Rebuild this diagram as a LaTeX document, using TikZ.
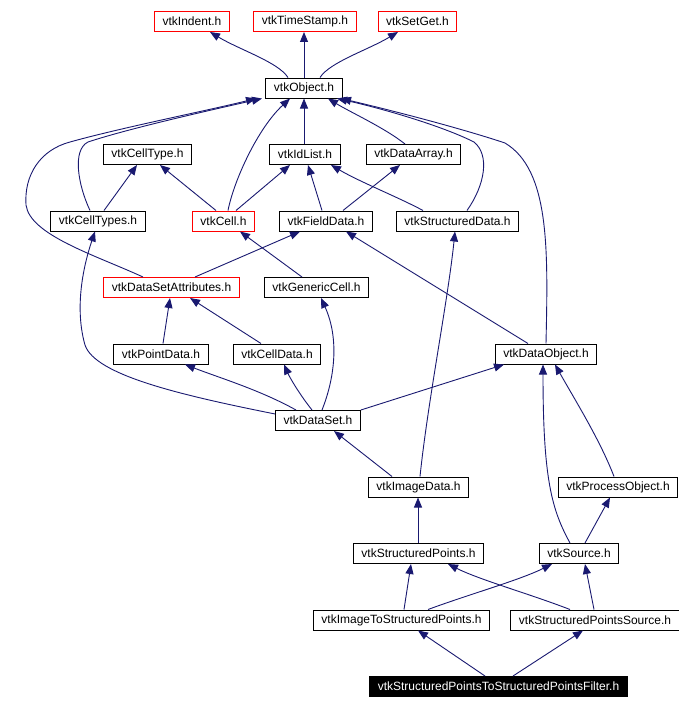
\documentclass[tikz,border=0pt]{standalone}
\usepackage{fontspec}
\setmainfont{Liberation Sans}
\usetikzlibrary{arrows.meta}
\definecolor{edgeblue}{RGB}{25,25,112}
\begin{document}
\begin{tikzpicture}[x=1pt,y=-1pt,
  hdr/.style={draw=black,line width=1pt,fill=white,inner xsep=8pt,inner ysep=0pt,
    minimum height=20pt,font=\fontsize{12}{14}\selectfont},
  miss/.style={hdr,draw=red},
  root/.style={hdr,fill=black,text=white},
  dep/.style={draw=edgeblue,line width=0.9pt,-{Triangle[length=10pt,width=8pt]}}]
  \useasboundingbox (0,0) rectangle (678,709);
  \node[miss] (indent) at (192,21.5) {vtkIndent.h};
  \node[miss] (timestamp) at (305,21.5) {vtkTimeStamp.h};
  \node[miss] (setget) at (417.5,21.5) {vtkSetGet.h};
  \node[hdr] (object) at (304,88) {vtkObject.h};
  \node[hdr] (celltype) at (147.5,154.5) {vtkCellType.h};
  \node[hdr] (idlist) at (305,154.5) {vtkIdList.h};
  \node[hdr] (dataarray) at (413.5,154.5) {vtkDataArray.h};
  \node[hdr] (celltypes) at (98,221) {vtkCellTypes.h};
  \node[miss] (cell) at (223.5,221) {vtkCell.h};
  \node[hdr] (fielddata) at (326,221) {vtkFieldData.h};
  \node[hdr] (structdata) at (457.5,221) {vtkStructuredData.h};
  \node[miss] (dsattr) at (171.5,287.5) {vtkDataSetAttributes.h};
  \node[hdr] (genericcell) at (316.5,287.5) {vtkGenericCell.h};
  \node[hdr] (pointdata) at (161,354) {vtkPointData.h};
  \node[hdr] (celldata) at (277,354) {vtkCellData.h};
  \node[hdr] (dataobject) at (546,354) {vtkDataObject.h};
  \node[hdr] (dataset) at (318,420.5) {vtkDataSet.h};
  \node[hdr] (imagedata) at (418.5,487) {vtkImageData.h};
  \node[hdr] (procobject) at (618,487) {vtkProcessObject.h};
  \node[hdr] (structpoints) at (418.5,553.5) {vtkStructuredPoints.h};
  \node[hdr] (source) at (579,553.5) {vtkSource.h};
  \node[hdr] (imgtosp) at (401.5,620) {vtkImageToStructuredPoints.h};
  \node[hdr] (spsource) at (595,620) {vtkStructuredPointsSource.h};
  \node[root] (filter) at (498.5,686.5) {vtkStructuredPointsToStructuredPointsFilter.h};

  \draw[dep] (object.north -| 288,0) .. controls (278,62) and (240,50) .. (indent.south -| 210,0);
  \draw[dep] (object.north -| 304,0) -- (timestamp.south -| 304,0);
  \draw[dep] (object.north -| 320,0) .. controls (330,62) and (368,50) .. (setget.south -| 398,0);
  \draw[dep] (idlist.north -| 304,0) -- (object.south -| 304,0);
  \draw[dep] (dataarray.north -| 405,0) .. controls (385,128) and (350,112) .. (object.south -| 328,0);
  \draw[dep] (cell.north -| 228,0) .. controls (234,180) and (258,128) .. (object.south -| 290,0);
  \draw[dep] (celltypes.north -| 90,0) .. controls (78,185) and (72,150) .. (88,142)
    .. controls (130,128) and (220,108) .. (object.south -| 262,0);
  \draw[dep] (dsattr.north -| 143,0) .. controls (95,255) and (30,235) .. (26,205)
    .. controls (24,175) and (40,150) .. (70,142) .. controls (120,128) and (210,110) .. (object.south -| 256,0);
  \draw[dep] (structdata.north -| 467,0) .. controls (485,185) and (490,155) .. (474,142)
    .. controls (440,125) and (380,108) .. (object.south -| 337,0);
  \draw[dep] (dataobject.north -| 546,0) .. controls (548,250) and (550,170) .. (505,143)
    .. controls (460,128) and (390,110) .. (object.south -| 341,0);
  \draw[dep] (celltypes.north -| 104,0) -- (celltype.south -| 137,0);
  \draw[dep] (cell.north -| 216,0) -- (celltype.south -| 160,0);
  \draw[dep] (cell.north -| 236,0) -- (idlist.south -| 290,0);
  \draw[dep] (fielddata.north -| 322,0) -- (idlist.south -| 308,0);
  \draw[dep] (fielddata.north -| 343,0) -- (dataarray.south -| 400,0);
  \draw[dep] (structdata.north -| 423,0) .. controls (400,198) and (360,182) .. (idlist.south -| 331,0);
  \draw[dep] (dsattr.north -| 195,0) -- (fielddata.south -| 300,0);
  \draw[dep] (genericcell.north -| 302,0) -- (cell.south -| 240,0);
  \draw[dep] (dataobject.north -| 528,0) -- (fielddata.south -| 346,0);
  \draw[dep] (imagedata.north -| 420,0) .. controls (428,400) and (448,300) .. (structdata.south -| 455,0);
  \draw[dep] (pointdata.north -| 163,0) -- (dsattr.south -| 170,0);
  \draw[dep] (celldata.north -| 261,0) -- (dsattr.south -| 190,0);
  \draw[dep] (dataset.west |- 0,414) .. controls (180,395) and (95,375) .. (85,345)
    .. controls (75,310) and (82,270) .. (celltypes.south -| 95,0);
  \draw[dep] (dataset.north -| 296,0) .. controls (260,390) and (220,378) .. (pointdata.south -| 185,0);
  \draw[dep] (dataset.north -| 312,0) .. controls (300,395) and (290,378) .. (celldata.south -| 284,0);
  \draw[dep] (dataset.north -| 322,0) .. controls (334,380) and (340,340) .. (genericcell.south -| 321,0);
  \draw[dep] (dataset.north east) -- (dataobject.south -| 504,0);
  \draw[dep] (imagedata.north -| 392,0) -- (dataset.south -| 334,0);
  \draw[dep] (source.north -| 570,0) .. controls (552,510) and (543,480) .. (dataobject.south -| 543,0);
  \draw[dep] (procobject.north -| 614,0) .. controls (600,440) and (575,400) .. (dataobject.south -| 555,0);
  \draw[dep] (structpoints.north -| 418,0) -- (imagedata.south -| 418,0);
  \draw[dep] (source.north -| 585,0) -- (procobject.south -| 610,0);
  \draw[dep] (imgtosp.north -| 404,0) -- (structpoints.south -| 411,0);
  \draw[dep] (imgtosp.north -| 428,0) .. controls (470,594) and (520,580) .. (source.south -| 552,0);
  \draw[dep] (spsource.north -| 570,0) .. controls (530,594) and (480,580) .. (structpoints.south -| 448,0);
  \draw[dep] (spsource.north -| 594,0) -- (source.south -| 585,0);
  \draw[dep] (filter.north -| 485,0) -- (imgtosp.south -| 418,0);
  \draw[dep] (filter.north -| 513,0) -- (spsource.south -| 583,0);
\end{tikzpicture}
\end{document}
